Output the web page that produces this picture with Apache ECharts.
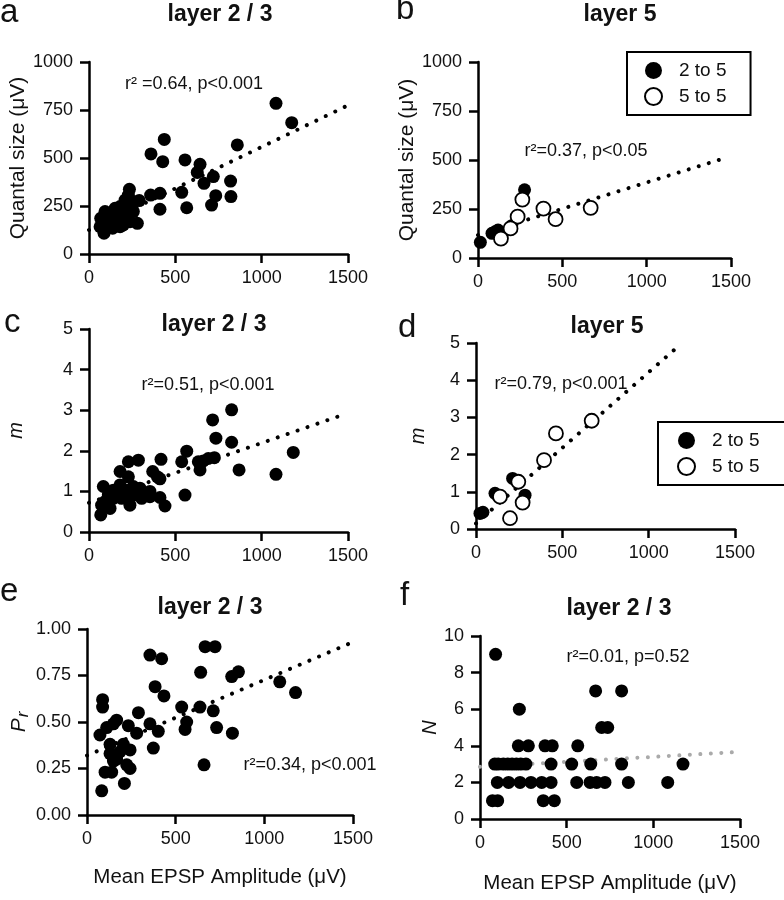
<!DOCTYPE html>
<html>
<head>
<meta charset="utf-8">
<script src="https://cdn.jsdelivr.net/npm/echarts@6/dist/echarts.min.js"></script>
<style>
html, body { margin: 0; padding: 0; background: #fff; }
#main { width: 784px; height: 900px; }
</style>
</head>
<body>
<div id="main"></div>
<script>
// ---- data (x = mean EPSP amplitude, uV) ----
// a: layer 2/3 quantal size (uV)
var quantalL23 = [[1083,785],[1174,684],[859,568],[436,597],[359,521],[427,481],[556,490],[643,467],[627,425],
  [666,368],[720,403],[820,380],[822,299],[734,304],[710,255],[566,241],[537,321],[411,316],[411,233],[357,307],
  [234,337],[291,278],[280,160],[68,186],[87,108],[112,160],[141,212],[180,247],[209,281],[237,247],[257,273],
  [180,142],[137,134],[64,142],[218,203],[257,221],[160,177],[199,186],[237,168],[122,203],[228,307],[93,221],
  [189,221],[151,238],[199,151]];
var quantalL23Fit = [[0,125],[1490,770]];

// b: layer 5 quantal size
var quantalL5Pair25 = [[14,80],[101,134],[119,143],[83,126],[200,165],[276,348]];
var quantalL5Pair55 = [[263,298],[235,211],[193,151],[136,99],[388,252],[460,198],[668,256]];
var quantalL5Fit = [[0,117],[1446,505]];

// c: layer 2/3 m
var mL23 = [[826,3.01],[716,2.76],[735,2.31],[826,2.21],[869,1.53],[1083,1.42],[1183,1.96],[566,1.99],[537,1.73],
  [643,1.53],[662,1.75],[691,1.81],[726,1.83],[633,1.73],[556,0.91],[417,1.79],[396,1.36],[369,1.49],[411,1.31],
  [286,1.77],[228,1.73],[180,1.49],[228,1.36],[353,0.87],[411,0.85],[440,0.64],[68,0.42],[83,1.12],[112,0.91],
  [141,1.03],[180,1.16],[218,1.03],[257,1.12],[295,1.08],[93,0.75],[141,0.83],[189,0.83],[237,0.66],[122,0.58],
  [218,0.83],[353,1.0],[73,0.66],[170,0.95],[257,0.91],[305,0.83]];
var mL23Fit = [[0,0.72],[1480,2.9]];

// d: layer 5 m
var mL5Pair25 = [[23,0.42],[40,0.45],[110,0.96],[212,1.36],[284,0.91]];
var mL5Pair55 = [[670,2.91],[463,2.57],[394,1.85],[245,1.27],[139,0.87],[270,0.71],[197,0.29]];
var mL5Fit = [[0,0.15],[1164,4.88]];

// e: layer 2/3 Pr
var prL23 = [[666,0.905],[722,0.905],[355,0.86],[421,0.84],[641,0.767],[816,0.744],[854,0.77],[384,0.69],
  [434,0.64],[88,0.62],[88,0.58],[1087,0.716],[1176,0.658],[534,0.58],[637,0.58],[712,0.56],[562,0.50],
  [553,0.46],[731,0.47],[820,0.44],[660,0.27],[290,0.55],[355,0.49],[402,0.45],[374,0.36],[83,0.13],[211,0.17],
  [73,0.43],[111,0.47],[167,0.51],[233,0.48],[280,0.44],[130,0.38],[186,0.34],[243,0.35],[149,0.29],[224,0.27],
  [102,0.23],[139,0.23],[243,0.25],[205,0.38],[130,0.33],[167,0.30],[149,0.49]];
var prL23Fit = [[0,0.32],[1500,0.93]];

// f: layer 2/3 N
var nL23 = [[90,9],[667,7],[817,7],[227,6],[702,5],[737,5],[221,4],[279,4],[375,4],[417,4],[564,4],
  [85,3],[105,3],[135,3],[160,3],[185,3],[210,3],[235,3],[265,3],[410,3],[529,3],[639,3],[817,3],[1171,3],
  [100,2],[165,2],[231,2],[294,2],[356,2],[410,2],[558,2],[635,2],[673,2],[721,2],[856,2],[1083,2],
  [72,1],[102,1],[365,1],[429,1]];
var nL23Fit = [[0,2.85],[1460,3.65]];

var panelTitles = ['layer 2 / 3', 'layer 5', 'layer 2 / 3', 'layer 5', 'layer 2 / 3', 'layer 2 / 3'];
var panelLetters = ['a', 'b', 'c', 'd', 'e', 'f'];
var statTexts = ['r\u00b2 =0.64, p<0.001', 'r\u00b2=0.37, p<0.05', 'r\u00b2=0.51, p<0.001',
  'r\u00b2=0.79, p<0.001', 'r\u00b2=0.34, p<0.001', 'r\u00b2=0.01, p=0.52'];
var legendNames = ['2 to 5', '5 to 5'];

// ---- layout ----
var FONT = 'Liberation Sans, Arial, sans-serif';
var grids = [
  {left: 89, top: 62, width: 259, height: 192},
  {left: 478, top: 62, width: 253, height: 196},
  {left: 89, top: 329, width: 259, height: 203},
  {left: 476, top: 343, width: 259, height: 186},
  {left: 87, top: 629, width: 266, height: 186},
  {left: 480, top: 636, width: 260, height: 183}
];
var yRanges = [[0, 1000, 250], [0, 1000, 250], [0, 5, 1], [0, 5, 1], [0, 1, 0.25], [0, 10, 2]];
var yNames = ['Quantal size (\u03bcV)', 'Quantal size (\u03bcV)', 'm', 'm', '{p|P}{s|r}', 'N'];
var yNameGaps = [48, 49, 63, 48, 54, 34];
var titlePos = [[220, 15], [620, 15], [214, 325], [607, 327], [210, 608], [619, 609]];
var letterPos = [[0, -4], [396, -7], [4, 306], [398, 311], [0, 575], [400, 579]];
var statPos = [[194, 84], [586, 151], [208, 385], [561, 384], [310, 765], [628, 657]];

var axisLineStyle = {color: '#000', width: 2.5};

function plainNum(v) { return String(v); }

var xAxes = grids.map(function (g, i) {
  return {
    type: 'value', gridIndex: i, min: 0, max: 1500, interval: 500,
    axisLine: {show: true, lineStyle: axisLineStyle},
    axisTick: {show: true, length: 9, lineStyle: axisLineStyle},
    axisLabel: {margin: 15, fontSize: 18, color: '#111', fontFamily: FONT,
      showMinLabel: true, showMaxLabel: true, formatter: plainNum},
    splitLine: {show: false},
    name: i >= 4 ? 'Mean EPSP Amplitude (\u03bcV)' : '',
    nameLocation: 'middle', nameGap: i === 4 ? 52 : 54,
    nameTextStyle: {fontSize: 20.5, color: '#111', fontFamily: FONT}
  };
});

var yAxes = grids.map(function (g, i) {
  var r = yRanges[i];
  return {
    type: 'value', gridIndex: i, min: r[0], max: r[1], interval: r[2],
    axisLine: {show: true, lineStyle: axisLineStyle},
    axisTick: {show: true, length: 9, lineStyle: axisLineStyle},
    axisLabel: {margin: 16, fontSize: 18, color: '#111', fontFamily: FONT,
      showMinLabel: true, showMaxLabel: true,
      formatter: i === 4 ? function (v) { return v.toFixed(2); } : plainNum},
    splitLine: {show: false},
    name: yNames[i], nameLocation: 'middle', nameRotate: 90, nameGap: yNameGaps[i],
    nameTextStyle: {
      fontSize: (i >= 2) ? 20 : 21, color: '#111', fontFamily: FONT,
      fontStyle: (i >= 2) ? 'italic' : 'normal',
      rich: {
        p: {fontSize: 21, fontStyle: 'italic', fontFamily: FONT, color: '#111'},
        s: {fontSize: 17, fontStyle: 'italic', fontFamily: FONT, color: '#111', padding: [8, 0, 0, 1]}
      }
    }
  };
});

function filled(name, data, gi) {
  return {
    name: name, type: 'scatter', xAxisIndex: gi, yAxisIndex: gi, data: data,
    symbol: 'circle', symbolSize: 13, z: 3,
    itemStyle: {color: '#000', borderColor: '#000', borderWidth: 0, opacity: 1}
  };
}
function open(name, data, gi) {
  return {
    name: name, type: 'scatter', xAxisIndex: gi, yAxisIndex: gi, data: data,
    symbol: 'circle', symbolSize: 14, z: 4,
    itemStyle: {color: '#fff', borderColor: '#000', borderWidth: 1.8, opacity: 1}
  };
}
function fit(data, gi, color) {
  return {
    type: 'line', xAxisIndex: gi, yAxisIndex: gi, data: data,
    showSymbol: false, symbol: 'none', silent: true, z: 2,
    lineStyle: {color: color || '#000', width: 4, type: [0.01, 10.5], cap: 'round'}
  };
}

var graphics = [];
panelTitles.forEach(function (t, i) {
  graphics.push({type: 'text', x: titlePos[i][0], y: titlePos[i][1],
    style: {text: t, font: 'bold 23px ' + FONT, fill: '#111', align: 'center', verticalAlign: 'middle'}});
  graphics.push({type: 'text', x: letterPos[i][0], y: letterPos[i][1],
    style: {text: panelLetters[i], font: '33px ' + FONT, fill: '#111', align: 'left', verticalAlign: 'top'}});
  graphics.push({type: 'text', x: statPos[i][0], y: statPos[i][1],
    style: {text: statTexts[i], font: '18px ' + FONT, fill: '#111', align: 'center', verticalAlign: 'middle'}});
});

var legendCommon = {
  orient: 'vertical', data: legendNames, selectedMode: false,
  borderColor: '#000', borderWidth: 2, borderRadius: 0, backgroundColor: '#fff',
  itemWidth: 17, itemHeight: 17, itemGap: 7,
  textStyle: {fontSize: 19, color: '#111', fontFamily: FONT, padding: [0, 0, 0, 12]}
};

var option = {
  animation: false,
  backgroundColor: '#fff',
  textStyle: {fontFamily: FONT},
  grid: grids,
  xAxis: xAxes,
  yAxis: yAxes,
  legend: [
    Object.assign({left: 627, top: 52, padding: [9, 24, 9, 17]}, legendCommon),
    Object.assign({left: 658, top: 422, padding: [9, 28, 9, 19]}, legendCommon)
  ],
  graphic: graphics,
  series: [
    fit(quantalL23Fit, 0), filled('L23 quantal', quantalL23, 0),
    fit(quantalL5Fit, 1), filled('2 to 5', quantalL5Pair25, 1), open('5 to 5', quantalL5Pair55, 1),
    fit(mL23Fit, 2), filled('L23 m', mL23, 2),
    fit(mL5Fit, 3), filled('2 to 5', mL5Pair25, 3), open('5 to 5', mL5Pair55, 3),
    fit(prL23Fit, 4), filled('L23 Pr', prL23, 4),
    fit(nL23Fit, 5, '#aaa'), filled('L23 N', nL23, 5)
  ]
};

var myChart = echarts.init(document.getElementById('main'));
myChart.setOption(option);
</script>
</body>
</html>
